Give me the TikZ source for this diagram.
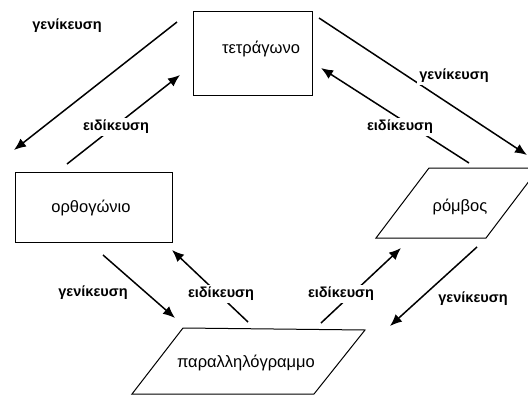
\documentclass[tikz,border=0pt]{standalone}
\usepackage{fontspec}
\setmainfont{Liberation Sans}
\usetikzlibrary{arrows.meta}

\begin{document}
\begin{tikzpicture}[x=1pt, y=-1pt,
    figbox/.style = {draw, line width=1pt},
    figname/.style = {font=\fontsize{16.5}{19}\selectfont},
    rel/.style = {-{Latex[length=12pt,width=10pt]}, line width=1.5pt},
    rellbl/.style = {font=\bfseries\fontsize{14.5}{17}\selectfont, fill=white, inner sep=2pt}]

        \useasboundingbox (0,0) rectangle (528,394);

        % the four shapes
        \node[figbox, minimum width=119pt, minimum height=84pt] (sq) at (252.5,53) {};
        \node[figname] (sqtxt) at (261,49) {τετράγωνο};

        \node[figbox, minimum width=157pt, minimum height=70pt] (rect) at (93.5,207) {};
        \node[figname] (recttxt) at (91,208) {ορθογώνιο};

        \begin{scope}
            \clip (0,0) rectangle (528,394);
            \draw[figbox] (376,238) -- (486,238) -- (539,168) -- (429,168) -- cycle;
            \draw[figbox] (132,394) -- (314,394) -- (365,330) -- (183,328) -- cycle;
        \end{scope}
        \node[figname] (rhtxt) at (460,207) {ρόμβος};
        \node[figname] (partxt) at (246,363) {παραλληλόγραμμο};

        % ends of the arrows
        \coordinate (g1a) at (177,22);  \coordinate (g1b) at (14,150);
        \coordinate (e1a) at (67,164);  \coordinate (e1b) at (180,75);
        \coordinate (g2a) at (319,18);  \coordinate (g2b) at (527,155);
        \coordinate (e2a) at (469,163); \coordinate (e2b) at (321,68);
        \coordinate (g3a) at (103,255); \coordinate (g3b) at (175,318);
        \coordinate (e3a) at (248,322); \coordinate (e3b) at (172,250);
        \coordinate (e4a) at (321,323); \coordinate (e4b) at (401,248);
        \coordinate (g4a) at (477,247); \coordinate (g4b) at (390,326);

        \foreach \a/\b in {g1a/g1b, e1a/e1b, g2a/g2b, e2a/e2b, g3a/g3b, e3a/e3b, e4a/e4b, g4a/g4b}
            \draw[rel] (\a) -- (\b);

        % labels, on top of the arrows
        \node[rellbl] (g1lbl) at (67,26)   {γενίκευση};
        \node[rellbl] (e1lbl) at (116,127) {ειδίκευση};
        \node[rellbl] (g2lbl) at (454,76)  {γενίκευση};
        \node[rellbl] (e2lbl) at (400,127) {ειδίκευση};
        \node[rellbl] (g3lbl) at (93,293)  {γενίκευση};
        \node[rellbl] (e3lbl) at (221,294) {ειδίκευση};
        \node[rellbl] (e4lbl) at (341,294) {ειδίκευση};
        \node[rellbl] (g4lbl) at (473,299) {γενίκευση};

    \end{tikzpicture}
\end{document}
